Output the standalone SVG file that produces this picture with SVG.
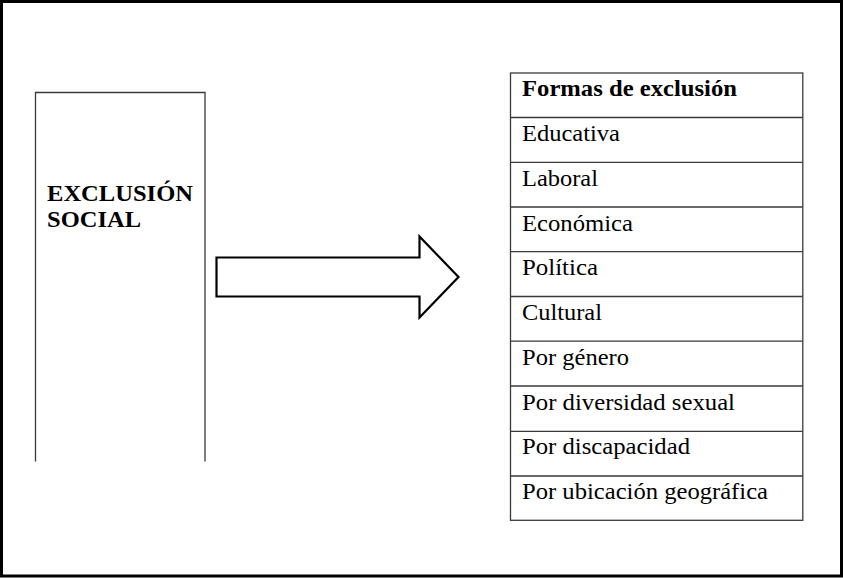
<svg xmlns="http://www.w3.org/2000/svg" width="843" height="578" viewBox="0 0 843 578">
<style>
text{font-family:'Liberation Serif','Times New Roman',Times,serif;font-size:23.5px;fill:#000}
.b{font-weight:bold}
.ln{stroke:#3a3a3a;stroke-width:1.3;fill:none}
</style>
<rect x="0" y="0" width="843" height="578" fill="#fff"/>
<rect x="1.5" y="1.5" width="840" height="574.5" fill="none" stroke="#000" stroke-width="3"/>
<g id="exclusion-social">
<path class="ln" d="M35.5 461.5 V92.5 H205 V461.5"/>
<text class="b" x="47" y="201" textLength="146" lengthAdjust="spacingAndGlyphs">EXCLUSIÓN</text>
<text class="b" x="47" y="227" textLength="94" lengthAdjust="spacingAndGlyphs">SOCIAL</text>
</g>
<g id="connectors">
<polygon points="216.5,257.5 419.5,257.5 419.5,236.5 458.5,277 419.5,317.5 419.5,296.5 216.5,296.5" fill="#fff" stroke="#000" stroke-width="2.2" stroke-linejoin="miter"/>
</g>
<g id="formas-de-exclusion">
<rect class="ln" x="510.5" y="73" width="292.3" height="447.3"/>
<path class="ln" d="M510.5 117.5 H802.8 M510.5 162.3 H802.8 M510.5 207 H802.8 M510.5 251.7 H802.8 M510.5 296.5 H802.8 M510.5 341.2 H802.8 M510.5 386 H802.8 M510.5 431.3 H802.8 M510.5 476 H802.8"/>
<text class="b" x="522" y="96" textLength="215" lengthAdjust="spacingAndGlyphs">Formas de exclusión</text>
<text x="522" y="141" textLength="98" lengthAdjust="spacingAndGlyphs">Educativa</text>
<text x="522" y="186" textLength="76" lengthAdjust="spacingAndGlyphs">Laboral</text>
<text x="522" y="230.5" textLength="111" lengthAdjust="spacingAndGlyphs">Económica</text>
<text x="522" y="275.3" textLength="76" lengthAdjust="spacingAndGlyphs">Política</text>
<text x="522" y="320" textLength="80" lengthAdjust="spacingAndGlyphs">Cultural</text>
<text x="522" y="364.8" textLength="107" lengthAdjust="spacingAndGlyphs">Por género</text>
<text x="522" y="409.5" textLength="213" lengthAdjust="spacingAndGlyphs">Por diversidad sexual</text>
<text x="522" y="454.3" textLength="168" lengthAdjust="spacingAndGlyphs">Por discapacidad</text>
<text x="522" y="499" textLength="246" lengthAdjust="spacingAndGlyphs">Por ubicación geográfica</text>
</g>
</svg>
